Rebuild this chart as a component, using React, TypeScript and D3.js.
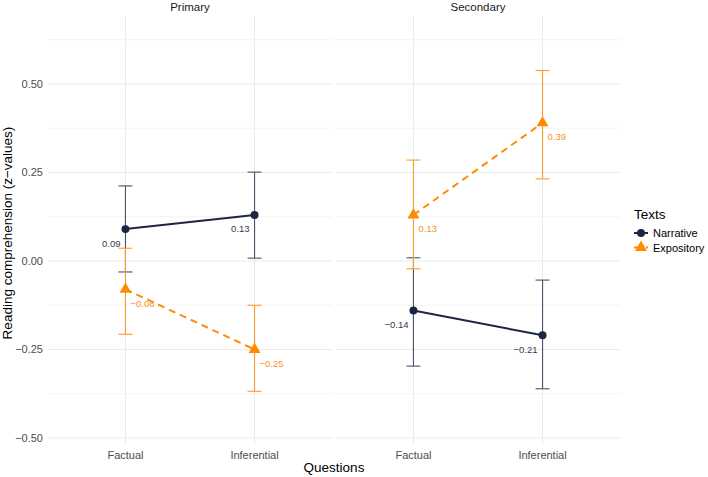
import React from 'react';
import * as d3 from 'd3';

// cells ordered: Primary-Factual, Primary-Inferential, Secondary-Factual, Secondary-Inferential
const panels = ['Primary', 'Secondary'];
const questions = ['Factual', 'Inferential'];
const texts = ['Narrative', 'Expository'];

const narrativeMean = [0.09, 0.13, -0.14, -0.21];
const narrativeLower = [-0.031, 0.008, -0.297, -0.361];
const narrativeUpper = [0.212, 0.251, 0.009, -0.054];

const expositoryMean = [-0.08, -0.25, 0.13, 0.39];
const expositoryLower = [-0.207, -0.368, -0.022, 0.232];
const expositoryUpper = [0.036, -0.125, 0.285, 0.538];

const yTicks = [-0.5, -0.25, 0, 0.25, 0.5];
const yMinor = [-0.375, -0.125, 0.125, 0.375, 0.625];

const W = 708;
const H = 477;
const panelW = 284;
const panelX = [48, 336];
const top = 16;
const bottom = 444;

const navy = '#1d2541';
const navyBar = '#4a5168';
const orange = '#ff8c00';
const orangeBar = '#ff9a2e';
const grid = '#ebebeb';
const font = 'Liberation Sans, Arial, Helvetica, sans-serif';

const fmt = (v: number) => d3.format('.2f')(v).replace('-', '\u2212');

const App = () => {
  const x = d3.scalePoint<string>().domain(questions).range([0, panelW]).padding(0.6);
  const y = d3.scaleLinear().domain([-0.517, 0.692]).range([bottom, top]);

  const series = [
    { name: texts[0], mean: narrativeMean, lo: narrativeLower, hi: narrativeUpper, color: navy, bar: navyBar, dash: null },
    { name: texts[1], mean: expositoryMean, lo: expositoryLower, hi: expositoryUpper, color: orange, bar: orangeBar, dash: '7,5' },
  ];

  const circle = d3.symbol(d3.symbolCircle, 50)();
  const tri = d3.symbol(d3.symbolTriangle, 62)();
  const line = d3.line<number>();

  return (
    <div style={{ position: 'absolute', left: 0, top: 0 }}>
      <svg width={W} height={H} style={{ display: 'block', fontFamily: font }}>
        <rect width={W} height={H} fill="#fff" />
        {panels.map((p, pi) => {
          const ox = panelX[pi];
          return (
            <g key={p} transform={`translate(${ox},0)`}>
              {yMinor.map((t) => (
                <line key={'m' + t} x1={0} x2={panelW} y1={y(t)} y2={y(t)} stroke={grid} strokeWidth={0.6} />
              ))}
              {yTicks.map((t) => (
                <line key={'M' + t} x1={0} x2={panelW} y1={y(t)} y2={y(t)} stroke={grid} strokeWidth={1.1} />
              ))}
              {questions.map((q) => (
                <line key={q} x1={x(q)} x2={x(q)} y1={top} y2={bottom} stroke={grid} strokeWidth={1.1} />
              ))}
              <text x={panelW / 2} y={11} textAnchor="middle" fontSize={11.5} fill="#1a1a1a">{p}</text>
              {questions.map((q) => (
                <text key={'xl' + q} x={x(q)} y={459} textAnchor="middle" fontSize={11} fill="#4d4d4d">{q}</text>
              ))}
              {series.map((s) => {
                const idx = [pi * 2, pi * 2 + 1];
                const pts = idx.map((i, k) => [x(questions[k]) as number, y(s.mean[i])] as [number, number]);
                return (
                  <g key={s.name}>
                    {idx.map((i, k) => {
                      const cx = x(questions[k]) as number;
                      return (
                        <g key={'e' + k} stroke={s.bar} strokeWidth={1.1}>
                          <line x1={cx} x2={cx} y1={y(s.lo[i])} y2={y(s.hi[i])} />
                          <line x1={cx - 7} x2={cx + 7} y1={y(s.lo[i])} y2={y(s.lo[i])} />
                          <line x1={cx - 7} x2={cx + 7} y1={y(s.hi[i])} y2={y(s.hi[i])} />
                        </g>
                      );
                    })}
                    <path d={line(pts as any) || ''} fill="none" stroke={s.color} strokeWidth={2} strokeDasharray={s.dash || undefined} />
                    {pts.map((pt, k) => (
                      <path key={'p' + k} d={s.name === 'Narrative' ? circle || '' : tri || ''} transform={`translate(${pt[0]},${pt[1]})`} fill={s.color} />
                    ))}
                    {idx.map((i, k) => {
                      const cx = x(questions[k]) as number;
                      const isN = s.name === 'Narrative';
                      return (
                        <text key={'t' + k} x={isN ? cx - 5 : cx + 5} y={y(s.mean[i]) + 17.5}
                          textAnchor={isN ? 'end' : 'start'} fontSize={9.5} fill={isN ? '#333a4d' : '#f5922a'}>
                          {fmt(s.mean[i])}
                        </text>
                      );
                    })}
                  </g>
                );
              })}
            </g>
          );
        })}
        {yTicks.map((t) => (
          <text key={'yl' + t} x={43} y={y(t) + 3.8} textAnchor="end" fontSize={11} fill="#4d4d4d">{fmt(t)}</text>
        ))}
        <text x={334} y={472} textAnchor="middle" fontSize={13.5} fill="#000">Questions</text>
        <text transform={`translate(11.5,${(top + bottom) / 2 + 3}) rotate(-90)`} textAnchor="middle" fontSize={13.5} fill="#000">
          Reading comprehension (z{'\u2212'}values)
        </text>
        <g>
          <text x={634} y={219} fontSize={13.5} fill="#000">Texts</text>
          {series.map((s, i) => {
            const ly = 233 + i * 14.5;
            return (
              <g key={'lg' + s.name}>
                <line x1={634} x2={648} y1={ly} y2={ly} stroke={s.color} strokeWidth={2} strokeDasharray={s.dash ? '4,2' : undefined} />
                <path d={i === 0 ? circle || '' : tri || ''} transform={`translate(641,${ly})`} fill={s.color} />
                <text x={653} y={ly + 4} fontSize={11} fill="#000">{s.name}</text>
              </g>
            );
          })}
        </g>
      </svg>
    </div>
  );
};

export default App;
